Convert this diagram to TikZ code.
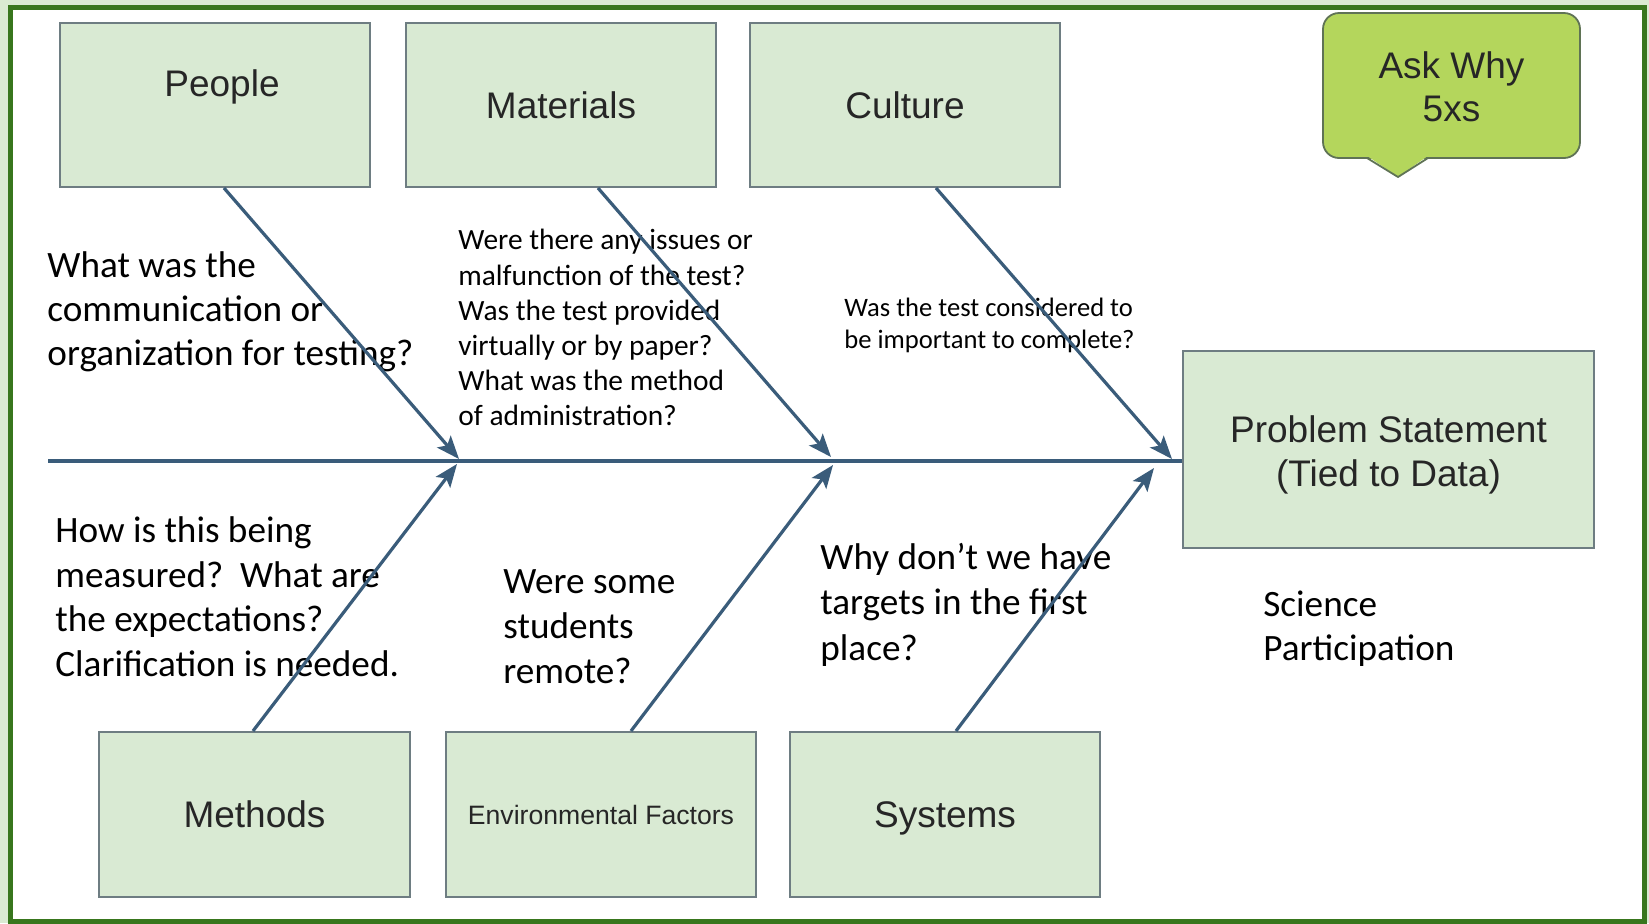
\documentclass[tikz,border=0pt]{standalone}
\usepackage{fontspec}
\setmainfont{Liberation Sans}
\newfontfamily\calfont{Carlito}
\usetikzlibrary{arrows.meta,calc}
\definecolor{boxfill}{HTML}{D9EAD3}
\definecolor{boxline}{RGB}{110,125,130}
\definecolor{arrowc}{RGB}{58,92,122}
\definecolor{frameg}{HTML}{38761D}
\definecolor{outerg}{RGB}{218,234,210}
\definecolor{callfill}{RGB}{180,214,92}
\definecolor{callline}{RGB}{95,115,85}
\begin{document}
\begin{tikzpicture}[x=0.5pt,y=-0.5pt,
  box/.style={draw=boxline,line width=1pt,fill=boxfill,minimum width=155pt,minimum height=82pt,inner sep=0pt,font=\fontsize{18.5}{21.3}\selectfont,text=black!85,align=center},
  lbl/.style={inner sep=0pt,font=\fontsize{18.5}{21.3}\selectfont,text=black!85,align=center},
  note/.style={anchor=north west,inner sep=0pt,align=left,font=\calfont\fontsize{18.6}{22}\selectfont},
  bone/.style={draw=arrowc,line width=1.6pt,-{Stealth[length=11.5pt,width=9pt,inset=2.5pt]}}]
\useasboundingbox (0,0) rectangle (1649,923);
% background and frame
\fill[outerg] (0,0) rectangle (1649,923);
\fill[white] (10.5,7.5) rectangle (1644.5,921);
\draw[frameg,line width=2.5pt] (10.5,7.5) rectangle (1644.5,921);

% notes
\node[note] (nPeople) at (47,251) {What was the\\communication or\\organization for testing?};
\node[note,font=\calfont\fontsize{14.7}{17.6}\selectfont] (nMat) at (458,229) {Were there any issues or\\malfunction of the test?\\Was the test provided\\virtually or by paper?\\What was the method\\of administration?};
\node[note,font=\calfont\fontsize{13.3}{16}\selectfont] (nCult) at (844,298) {Was the test considered to\\be important to complete?};
\node[note,font=\calfont\fontsize{18.6}{22.4}\selectfont] (nMeth) at (55,516) {How is this being\\measured?\ \ What are\\the expectations?\\Clarification is needed.};
\node[note,font=\calfont\fontsize{18.6}{22.6}\selectfont] (nEnv) at (503,569) {Were some\\students\\remote?};
\node[note,font=\calfont\fontsize{18.6}{22.6}\selectfont] (nSys) at (820,543) {Why don’t we have\\targets in the first\\place?};
\node[note,font=\calfont\fontsize{18.6}{22}\selectfont] (nSci) at (1263,590) {Science\\Participation};

% boxes
\node[box] (people) at (215,105) {};
\node[lbl] (peopleL) at ($(people.center)+(7,-18)$) {People};
\node[box] (materials) at (561,105) {Materials};
\node[box] (culture) at (905,105) {Culture};
\node[box,minimum width=155.5pt,minimum height=82.5pt] (methods) at (254.5,814.5) {Methods};
\node[box,minimum width=155pt,minimum height=82.5pt,font=\fontsize{13.3}{16}\selectfont] (env) at (601,814.5) {Environmental Factors};
\node[box,minimum width=155pt,minimum height=82.5pt,text depth=0pt] (systems) at (945,814.5) {Systems};
\node[box,minimum width=205.5pt,minimum height=98.5pt] (prob) at (1388.5,449.5) {};
\node[lbl,font=\fontsize{18.5}{22}\selectfont] (probL) at ($(prob.center)+(0,5)$) {Problem Statement\\(Tied to Data)};

% callout
\draw[callline,fill=callfill,line width=0.9pt,rounded corners=8pt] (1323,13) rectangle (1580,158);
\fill[callfill] (1368,156.5) -- (1398,177) -- (1427,156.5) -- cycle;
\draw[callline,line width=0.9pt,line join=round] (1367,158) -- (1398,177) -- (1428,158);
\node[lbl] (ask) at (1451.5,86.5) {Ask Why\\5xs};

% spine
\coordinate (sp0) at (48,461);
\draw[arrowc,line width=1.7pt] (sp0) -- (sp0 -| prob.west);

% bones
\coordinate (tP) at (459,459);
\coordinate (tM) at (831,457);
\coordinate (tC) at (1172,459);
\coordinate (tMe) at (457,464);
\coordinate (tE) at (833,465);
\coordinate (tS) at (1154,468);
\draw[bone] ($(people.south)+(9,0)$) -- (tP);
\draw[bone] ($(materials.south)+(37,0)$) -- (tM);
\draw[bone] ($(culture.south)+(31,0)$) -- (tC);
\draw[bone] ($(methods.north)+(-1.5,0)$) -- (tMe);
\draw[bone] ($(env.north)+(30,0)$) -- (tE);
\draw[bone] ($(systems.north)+(11,0)$) -- (tS);
\end{tikzpicture}
\end{document}
